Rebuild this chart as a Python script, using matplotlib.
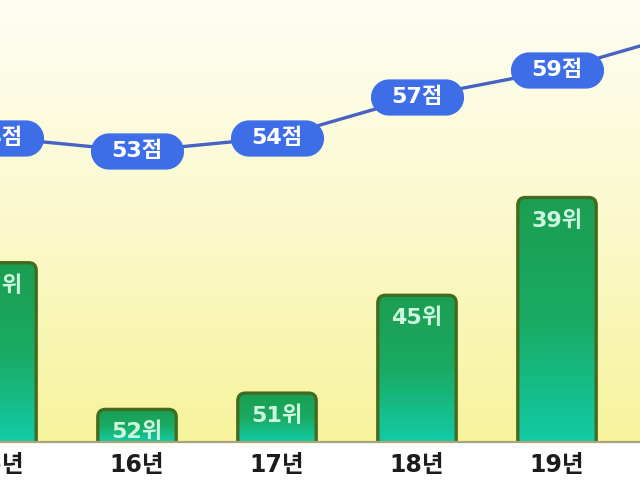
import numpy as np
import matplotlib
matplotlib.use("Agg")
import matplotlib.pyplot as plt
from matplotlib.patches import FancyBboxPatch
from matplotlib.colors import LinearSegmentedColormap
from matplotlib.path import Path
from matplotlib.transforms import blended_transform_factory

years = ["15년", "16년", "17년", "18년", "19년", "20년"]
ranks = [43, 52, 51, 45, 39, 34]
scores = [54, 53, 54, 57, 59, 62]
rank_floor = 54  # rank that would give a zero-height bar

# wide DejaVu digits, Hangul falls back to Noto
plt.rcParams["font.family"] = ["DejaVu Sans", "Noto Sans CJK KR"]

fig = plt.figure(figsize=(6.4, 4.8), dpi=100)
fig.patch.set_facecolor("white")
ax = fig.add_axes([0, 38 / 480, 1, 442 / 480])

# the picture is a crop: first and last years sit past the edges
px_per_cat = 140.0
first_px = -3.0
xmin = -first_px / px_per_cat
xlim = (xmin, xmin + 640 / px_per_cat)
ylim = (0, 442 / 16.3)

# background: pale cream at the top fading to yellow
bg = LinearSegmentedColormap.from_list("bg", ["#f7f39c", "#fbf9cc", "#fefef4"])
ax.imshow(np.linspace(0, 1, 256).reshape(-1, 1)[::-1], extent=[0, 1, 0, 1],
          transform=ax.transAxes, cmap=bg, aspect="auto", zorder=0)

x = np.arange(len(years))
heights = [rank_floor - r for r in ranks]
bars = ax.bar(x, heights, width=0.56, color="none", edgecolor="none")

bar_cmap = LinearSegmentedColormap.from_list("bar", ["#12cba6", "#1aaa62", "#1c9e52"])
aspect = (ylim[1] / 442) / (1 / px_per_cat)
for b, r in zip(bars, ranks):
    bx, bw, bh = b.get_x(), b.get_width(), b.get_height()
    patch = FancyBboxPatch((bx, -1), bw, bh + 1,
                           boxstyle="round,pad=0,rounding_size=0.055",
                           mutation_aspect=aspect, facecolor="none",
                           edgecolor="#436b1f", linewidth=2.4, zorder=3)
    ax.add_patch(patch)
    im = ax.imshow(np.linspace(0, 1, 128).reshape(-1, 1), extent=[bx, bx + bw, 0, bh],
                   origin="lower", cmap=bar_cmap, aspect="auto", zorder=2)
    im.set_clip_path(patch)
    ax.annotate(f"{r}위", (bx + bw / 2, bh), xytext=(0, -9), textcoords="offset points",
                ha="center", va="top", fontsize=16, fontweight="bold",
                color="#cdf6de", zorder=4, annotation_clip=False)

ax.set_xlim(*xlim)
ax.set_ylim(*ylim)
ax.set_xticks([])
ax.set_yticks([])
for side in ["top", "right", "left"]:
    ax.spines[side].set_visible(False)
ax.spines["bottom"].set_color("#aaa47a")
ax.spines["bottom"].set_linewidth(1.6)
ax.spines["bottom"].set_zorder(5)

# year labels under the baseline (the edge ones are cut by the crop)
lab_tr = blended_transform_factory(ax.transData, ax.transAxes)
for xi, yr in zip(x, years):
    ax.annotate(yr, (xi, 0), xycoords=lab_tr, xytext=(0, -8), textcoords="offset points",
                ha="center", va="top", fontsize=17, fontweight="bold",
                color="#1c1c1c", annotation_clip=False)

# score line on its own scale
ax2 = ax.twinx()
ax2.set_ylim(53 - 291 / 13.5, 53 + 151 / 13.5)
ax2.set_axis_off()

# pill-shaped marker
r = 0.19
a = 0.5 - r
t1 = np.linspace(-np.pi / 2, np.pi / 2, 30)
t2 = np.linspace(np.pi / 2, 3 * np.pi / 2, 30)
verts = np.concatenate([
    np.column_stack([a + r * np.cos(t1), r * np.sin(t1)]),
    np.column_stack([-a + r * np.cos(t2), r * np.sin(t2)]),
])
verts = np.vstack([verts, verts[:1]])
pill = Path(verts, closed=True)

ax2.plot(x, scores, color="#4862c4", linewidth=2.4, zorder=3)
ax2.plot(x, scores, linestyle="none", marker=pill, markersize=66,
         markerfacecolor="#3d6ee8", markeredgecolor="#3d6ee8", zorder=4)
for xi, s in zip(x, scores):
    ax2.text(xi, s, f"{s}점", ha="center", va="center", fontsize=16,
             fontweight="bold", color="white", zorder=5, clip_on=True)
ax2.set_xlim(*xlim)

fig.savefig("out.png", dpi=100)
